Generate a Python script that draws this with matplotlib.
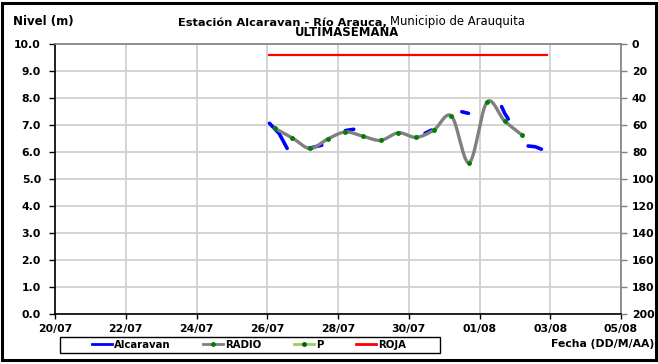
import numpy as np
import pandas as pd
import matplotlib
matplotlib.use("Agg")
import matplotlib.pyplot as plt
import matplotlib.dates as mdates
from matplotlib.lines import Line2D
from matplotlib.patches import Rectangle

plt.rcParams['font.family'] = ['DejaVu Sans']

# ---------------- data ----------------
radio_times = pd.date_range('2012-07-26 05:00', periods=15, freq='12h')
radio_levels = [6.89, 6.53, 6.14, 6.49, 6.75, 6.59, 6.44, 6.72, 6.55, 6.82,
                7.34, 5.61, 7.85, 7.16, 6.63]

# Alcaravan (blue) visible fragments; None marks a gap in the record
alc_times = ['2012-07-26 01:30', '2012-07-26 08:00', '2012-07-26 13:30', None,
             '2012-07-27 04:00', '2012-07-27 13:00', None,
             '2012-07-28 05:00', '2012-07-28 10:40', None,
             '2012-07-30 11:00', '2012-07-30 15:30', None,
             '2012-07-31 12:00', '2012-07-31 16:30', None,
             '2012-08-01 15:00', '2012-08-01 17:00', '2012-08-01 19:30', None,
             '2012-08-02 09:00', '2012-08-02 14:00', '2012-08-02 18:00']
alc_levels = [7.07, 6.70, 6.14, None,
              6.14, 6.26, None,
              6.80, 6.85, None,
              6.70, 6.82, None,
              7.50, 7.44, None,
              7.69, 7.45, 7.23, None,
              6.23, 6.20, 6.11]

roja_times = ['2012-07-26 01:00', '2012-08-02 22:00']
roja_levels = [9.6, 9.6]

p_times = []
p_values = []

x_ticks = pd.date_range('2012-07-20', periods=9, freq='2D')
y_ticks = np.arange(0, 10.01, 1.0)
y2_ticks = np.arange(0, 201, 20)

# ---------------- helpers ----------------
def smooth(xs, ys, n=30):
    """Excel-like smoothed line (Catmull-Rom Bezier) through the points."""
    xs = np.asarray(xs, float); ys = np.asarray(ys, float)
    px = np.concatenate([[xs[0]], xs, [xs[-1]]])
    py = np.concatenate([[ys[0]], ys, [ys[-1]]])
    ox, oy = [], []
    t = np.linspace(0, 1, n)
    for i in range(1, len(px) - 2):
        p0 = np.array([px[i], py[i]])
        p3 = np.array([px[i + 1], py[i + 1]])
        c1 = p0 + (np.array([px[i + 1], py[i + 1]]) - np.array([px[i - 1], py[i - 1]])) / 6
        c2 = p3 - (np.array([px[i + 2], py[i + 2]]) - np.array([px[i], py[i]])) / 6
        b = ((1 - t) ** 3)[:, None] * p0 + (3 * (1 - t) ** 2 * t)[:, None] * c1 + \
            (3 * (1 - t) * t ** 2)[:, None] * c2 + (t ** 3)[:, None] * p3
        ox.extend(b[:, 0]); oy.extend(b[:, 1])
    return np.array(ox), np.array(oy)

# ---------------- figure ----------------
W, H = 658, 364
fig = plt.figure(figsize=(W / 100, H / 100), dpi=100)

def fx(px):
    return px / W

def fy(py):
    return 1 - py / H

PT = 0.72  # points per pixel at 100 dpi

ax = fig.add_axes([fx(55), fy(314), fx(621) - fx(55), fy(44.3) - fy(314)])

grid_c = '#d0d0d0'
ax.set_xlim(pd.Timestamp('2012-07-20'), pd.Timestamp('2012-08-05'))
ax.set_ylim(0, 10)
ax.set_xticks(x_ticks)
ax.xaxis.set_major_formatter(mdates.DateFormatter('%d/%m'))
ax.set_yticks(y_ticks)
ax.set_yticklabels([f'{v:.1f}' for v in y_ticks])
ax.grid(True, color=grid_c, linewidth=1.3)
ax.set_axisbelow(True)
for lbl in ax.get_xticklabels() + ax.get_yticklabels():
    lbl.set_fontweight('bold')
    lbl.set_fontsize(7.8)
ax.tick_params(axis='y', direction='out', length=6 * PT, width=1, pad=8 * PT, color='black')
ax.tick_params(axis='x', direction='out', length=5 * PT, width=1, pad=5 * PT, color='black')
ax.spines['left'].set_color('black')
ax.spines['bottom'].set_color('black')
ax.spines['top'].set_color('#808080')
ax.spines['right'].set_color('#808080')
for s in ax.spines.values():
    s.set_linewidth(1.2)

# secondary axis (inverted 0-200)
ax2 = ax.twinx()
ax2.set_ylim(200, 0)
ax2.set_yticks(y2_ticks)
ax2.set_yticklabels([str(v) for v in y2_ticks], fontweight='bold', fontsize=7.8)
ax2.tick_params(axis='y', direction='out', length=6 * PT, width=1, pad=5 * PT, color='#808080')
for s in ax2.spines.values():
    s.set_visible(False)

# series
roja_x = mdates.date2num(pd.to_datetime(roja_times))
ax.plot(roja_x, roja_levels, color='#ff0000', linewidth=1.6, zorder=3)

alc_x = np.array([mdates.date2num(pd.Timestamp(t)) if t is not None else np.nan for t in alc_times])
alc_y = np.array([v if v is not None else np.nan for v in alc_levels], float)
ax.plot(alc_x, alc_y, color='#0000ff', linewidth=2.6, solid_capstyle='round', zorder=4)

rx = mdates.date2num(radio_times)
sx, sy = smooth(rx, radio_levels)
ax.plot(sx, sy, color='#808080', linewidth=2.4, zorder=5)
ax.plot(rx, radio_levels, linestyle='none', marker='o', markersize=2.5,
        color='#008000', zorder=6)

ax2.plot(p_times, p_values, color='#99cc66', marker='o', markersize=3)

# texts
fig.text(fx(13), fy(25), 'Nivel (m)', fontsize=8.5, fontweight='bold', ha='left', va='baseline')
fig.text(fx(387), fy(25.5), 'Estación Alcaravan - Río Arauca,', fontsize=8.2,
         fontweight='bold', ha='right', va='baseline')
fig.text(fx(390), fy(25.5), 'Municipio de Arauquita', fontsize=8.4, ha='left', va='baseline')
fig.text(fx(347), fy(36.5), 'ULTIMASEMANA', fontsize=8.4, fontweight='bold', ha='center', va='baseline')
fig.text(fx(654), fy(344), 'Fecha (DD/M/AA)', fontsize=7.8, fontweight='bold', ha='right', va='center')

# legend
handles = [
    Line2D([], [], color='#0000ff', linewidth=2),
    Line2D([], [], color='#808080', linewidth=2, marker='o', markersize=2.5,
           markerfacecolor='#008000', markeredgecolor='#008000'),
    Line2D([], [], color='#99cc66', linewidth=2, marker='o', markersize=2.5,
           markerfacecolor='#006400', markeredgecolor='#006400'),
    Line2D([], [], color='#ff0000', linewidth=2),
]
leg = fig.legend(handles, ['Alcaravan', 'RADIO', 'P', 'ROJA'], ncol=4,
                 loc='center', bbox_to_anchor=(fx(249), fy(345)),
                 prop={'weight': 'bold', 'size': 7.3}, frameon=False,
                 handlelength=2.0, handletextpad=0.2,
                 columnspacing=3.2, borderpad=0.25)
fig.patches.append(Rectangle((fx(60), fy(353)), fx(380), fy(337) - fy(353),
                             transform=fig.transFigure, fill=False,
                             edgecolor='black', linewidth=1.0))

# outer border
fig.patches.append(Rectangle((fx(2), fy(360)), fx(654), fy(3) - fy(360), transform=fig.transFigure,
                             fill=False, edgecolor='black', linewidth=2.2))

fig.savefig('out.png', dpi=100)
